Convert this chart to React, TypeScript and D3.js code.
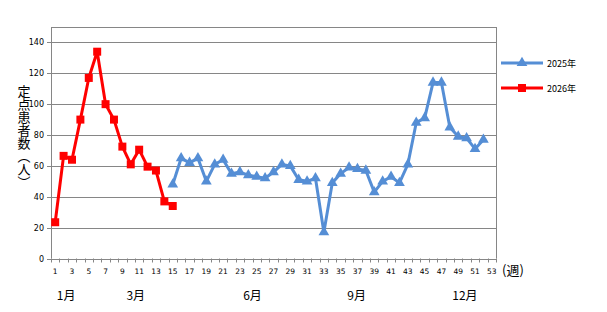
import React from "react";
import * as d3 from "d3";

const weeks: number[] = d3.range(1, 54);
const yTicks = [0, 20, 40, 60, 80, 100, 120, 140];
const series2026 = [23.5, 66.5, 64, 90, 117, 134, 100, 90, 72.5, 61, 70.5, 59.5, 57, 37, 34];
const series2025Start = 15;
const series2025 = [
  48, 65, 62, 65, 50, 61, 64, 55, 56, 54, 53, 52, 56, 61, 60, 51, 50, 52, 17, 49,
  55, 59, 58, 57, 43, 50, 53, 49, 61, 88, 91, 114, 114, 85, 79, 78, 71, 77,
];
const monthLabels = ["1月", "3月", "6月", "9月", "12月"];
const monthPos = [2.3, 10.6, 24.5, 36.9, 49.8];
const legendNames = ["2025年", "2026年"];
const yTitle = "定点患者数（人）";

const W = 607, H = 312;
const L = 51, R = 496, T = 27, B = 258.5;
const BLUE = "#558ED5";
const RED = "#FF0000";
const GRID = "#868686";

export default function App() {
  const x = d3.scaleBand<number>().domain(weeks).range([L, R]).padding(0);
  const bw = x.bandwidth();
  const cx = (w: number) => (x(w) as number) + bw / 2;
  const y = d3.scaleLinear().domain([0, 150]).range([B, T]);
  const xm = d3.scaleLinear().domain([0.5, 53.5]).range([L, R]);

  const d26 = series2026.map((v, i) => ({ w: i + 1, v }));
  const d25 = series2025.map((v, i) => ({ w: i + series2025Start, v }));
  const line = d3.line<{ w: number; v: number }>().x((d) => cx(d.w)).y((d) => y(d.v));
  const tri = d3.symbol(d3.symbolTriangle, 50)() as string;
  const sq = d3.symbol(d3.symbolSquare, 64)() as string;

  const numFont = "'DejaVu Sans', sans-serif";
  const jpFont = "'Noto Sans CJK JP', sans-serif";

  return (
    <svg width={W} height={H} style={{ position: "absolute", left: 0, top: 0, background: "#fff" }}>
      {yTicks.filter((t) => t > 0).map((t) => (
        <line key={t} x1={L} x2={R} y1={Math.round(y(t)) + 0.5} y2={Math.round(y(t)) + 0.5} stroke={GRID} strokeWidth={1} />
      ))}
      <line x1={L} x2={R} y1={T + 0.5} y2={T + 0.5} stroke={GRID} />
      <line x1={R + 0.5} x2={R + 0.5} y1={T} y2={B} stroke={GRID} />
      <line x1={L + 0.5} x2={L + 0.5} y1={T} y2={B} stroke={GRID} />
      <line x1={L} x2={R} y1={Math.round(B) + 0.5} y2={Math.round(B) + 0.5} stroke={GRID} />
      {yTicks.map((t) => (
        <g key={t}>
          <line x1={L - 4} x2={L} y1={Math.round(y(t)) + 0.5} y2={Math.round(y(t)) + 0.5} stroke={GRID} />
          <text x={L - 7} y={y(t) + 3} textAnchor="end" fontSize={8} fontFamily={numFont} fill="#000">{t}</text>
        </g>
      ))}
      {weeks.concat([54]).map((w) => {
        const xx = Math.round(w === 54 ? R : (x(w) as number)) + 0.5;
        return <line key={w} x1={xx} x2={xx} y1={B} y2={B + 4} stroke={GRID} />;
      })}
      {weeks.filter((w) => w % 2 === 1).map((w) => (
        <text key={w} x={cx(w)} y={274} textAnchor="middle" fontSize={7.5} fontFamily={numFont} fill="#000">{w}</text>
      ))}
      <text x={502} y={275} fontSize={13} fontFamily={jpFont} fill="#000">(週)</text>
      {monthLabels.map((m, i) => (
        <text key={m} x={xm(monthPos[i])} y={300} textAnchor="middle" fontSize={12} fontFamily={jpFont} fill="#000">{m}</text>
      ))}
      <text x={24} y={85} fontSize={13} fontFamily={jpFont} fill="#000" style={{ writingMode: "vertical-rl" }}>{yTitle}</text>
      <path d={line(d25) as string} fill="none" stroke={BLUE} strokeWidth={3} strokeLinejoin="round" />
      {d25.map((d) => (
        <path key={d.w} d={tri} transform={`translate(${cx(d.w)},${y(d.v)})`} fill={BLUE} />
      ))}
      <path d={line(d26) as string} fill="none" stroke={RED} strokeWidth={3} strokeLinejoin="round" />
      {d26.map((d) => (
        <path key={d.w} d={sq} transform={`translate(${cx(d.w)},${y(d.v)})`} fill={RED} />
      ))}
      {legendNames.map((n, i) => {
        const ly = 63 + i * 25;
        const col = i === 0 ? BLUE : RED;
        return (
          <g key={n}>
            <line x1={501} x2={543} y1={ly} y2={ly} stroke={col} strokeWidth={3} />
            <path d={i === 0 ? tri : sq} transform={`translate(522,${ly})`} fill={col} />
            <text x={547} y={ly + 3.5} fontSize={9} fontFamily={jpFont} fill="#000">{n}</text>
          </g>
        );
      })}
    </svg>
  );
}
